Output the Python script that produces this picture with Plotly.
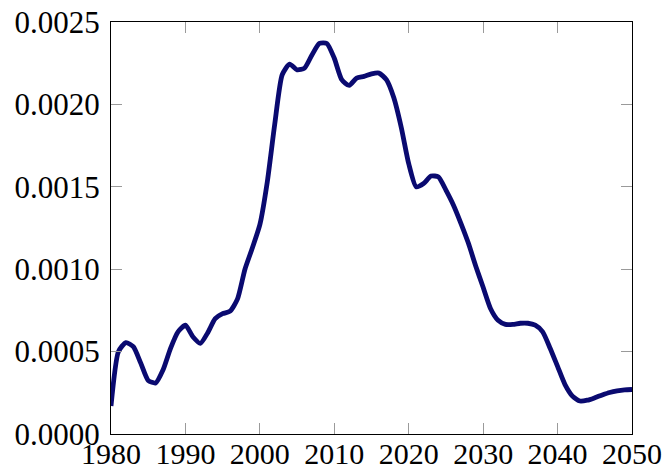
import plotly.graph_objects as go

years = list(range(1980, 2051))
values = [
    0.000170, 0.000500, 0.000555, 0.000530, 0.000430, 0.000325, 0.000310, 0.000390,
    0.000520, 0.000620, 0.000660, 0.000590, 0.000550, 0.000615, 0.000700, 0.000730,
    0.000745, 0.000820, 0.001000, 0.001130, 0.001270, 0.001530, 0.001880, 0.002180,
    0.002245, 0.002210, 0.002220, 0.002300, 0.002370, 0.002370, 0.002280, 0.002150,
    0.002115, 0.002160, 0.002170, 0.002185, 0.002190, 0.002150, 0.002040, 0.001860,
    0.001640, 0.001500, 0.001520, 0.001565, 0.001560, 0.001480, 0.001390, 0.001280,
    0.001160, 0.001020, 0.000890, 0.000760, 0.000690, 0.000665, 0.000665, 0.000672,
    0.000672, 0.000660, 0.000620, 0.000520, 0.000410, 0.000300, 0.000230, 0.000200,
    0.000205, 0.000220, 0.000237, 0.000252, 0.000262, 0.000268, 0.000270,
]
x_ticks = [1980, 1990, 2000, 2010, 2020, 2030, 2040, 2050]
y_ticks = [0.0, 0.0005, 0.0010, 0.0015, 0.0020, 0.0025]

fig = go.Figure()
fig.add_trace(go.Scatter(
    x=years, y=values, mode="lines",
    line=dict(color="#0a0a70", width=4.8, shape="spline", smoothing=0.6),
    showlegend=False, hoverinfo="skip",
))

font = dict(family="Liberation Serif, Times New Roman, serif", size=31, color="black")
xfont = dict(family="Liberation Serif, Times New Roman, serif", size=30, color="black")
axis_common = dict(
    showline=True, linecolor="black", linewidth=1, mirror="allticks",
    ticks="inside", ticklen=11, tickcolor="#9a9a9a", tickwidth=1,
    showgrid=False, zeroline=False, automargin=False,
)
fig.update_layout(
    width=666, height=472,
    margin=dict(l=111, r=34, t=22, b=38),
    paper_bgcolor="white", plot_bgcolor="white",
    xaxis=dict(range=[1980, 2050], tickvals=x_ticks, tickfont=xfont,
               ticktext=[str(v) for v in x_ticks], ticklabelstandoff=-7, **axis_common),
    yaxis=dict(range=[0, 0.0025], tickvals=y_ticks, tickfont=font,
               ticktext=[f"{v:.4f}" for v in y_ticks], ticklabelstandoff=4, **axis_common),
)
fig.write_html(
    "out.html",
    config={"displayModeBar": False, "staticPlot": True},
    post_script="document.body.style.margin='0';document.body.style.padding='0';",
)
